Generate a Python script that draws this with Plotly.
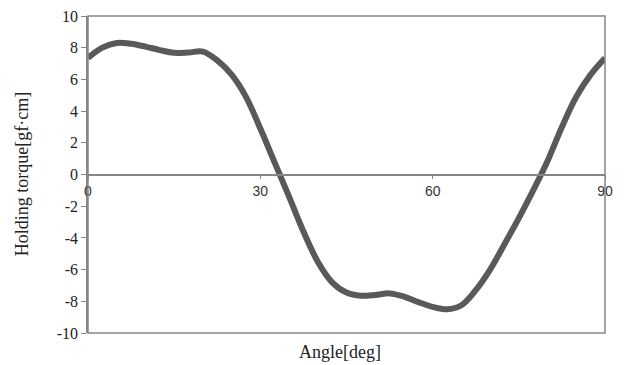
import plotly.graph_objects as go

angle = [0, 2.5, 5, 7.5, 10, 12.5, 15, 17.5, 20, 22.5, 25, 27.5, 30, 32.5, 35,
         37.5, 40, 42.5, 45, 47.5, 50, 52.5, 55, 57.5, 60, 62.5, 65, 67.5, 70,
         72.5, 75, 77.5, 80, 82.5, 85, 87.5, 90]
torque = [7.35, 8.0, 8.3, 8.25, 8.07, 7.85, 7.68, 7.7, 7.75, 7.2, 6.3, 4.9, 2.9,
          0.75, -1.4, -3.6, -5.5, -6.8, -7.45, -7.65, -7.6, -7.5, -7.7, -8.05,
          -8.35, -8.5, -8.25, -7.3, -6.0, -4.4, -2.75, -1.0, 0.85, 3.0, 4.9,
          6.3, 7.35]
x_ticks = [0, 30, 60, 90]
y_ticks = [-10, -8, -6, -4, -2, 0, 2, 4, 6, 8, 10]

axis_col = "#868686"
fig = go.Figure()
fig.add_trace(go.Scatter(x=angle, y=torque, mode="lines",
                         line=dict(color="#595959", width=6, shape="spline", smoothing=1.0),
                         showlegend=False, hoverinfo="skip"))

fig.update_layout(
    width=624, height=365,
    margin=dict(l=88, r=19, t=16, b=32),
    plot_bgcolor="white", paper_bgcolor="white",
    xaxis=dict(range=[0, 90], tickvals=x_ticks, ticktext=[str(v) for v in x_ticks],
               showgrid=False, zeroline=False, showline=True, linecolor=axis_col,
               linewidth=1.5, ticks="outside", ticklen=4, tickcolor=axis_col,
               anchor="free", position=0.5, automargin=False,
               tickfont=dict(family="Liberation Sans", size=14, color="#333333")),
    yaxis=dict(range=[-10, 10], tickvals=y_ticks, ticktext=[str(v) for v in y_ticks],
               showgrid=False, zeroline=False, showline=True, linecolor=axis_col,
               linewidth=1.5, ticks="outside", ticklen=5, tickcolor=axis_col,
               automargin=False,
               tickfont=dict(family="Liberation Serif", size=16, color="#222222")),
    shapes=[dict(type="rect", xref="paper", yref="paper", x0=0, x1=1, y0=0, y1=1,
                 line=dict(color=axis_col, width=1.5))],
    annotations=[
        dict(text="Angle[deg]", xref="paper", yref="paper", x=0.487, y=-0.06,
             xanchor="center", yanchor="middle", showarrow=False,
             font=dict(family="Liberation Serif", size=18, color="#222222")),
        dict(text="Holding torque[gf·cm]", xref="paper", yref="paper", x=-0.128, y=0.5,
             xanchor="center", yanchor="middle", textangle=-90, showarrow=False,
             font=dict(family="Liberation Serif", size=18, color="#222222")),
    ],
)
fig.write_html("out.html", config={"displayModeBar": False},
               post_script="document.body.style.margin='0';document.body.style.overflow='hidden';")
